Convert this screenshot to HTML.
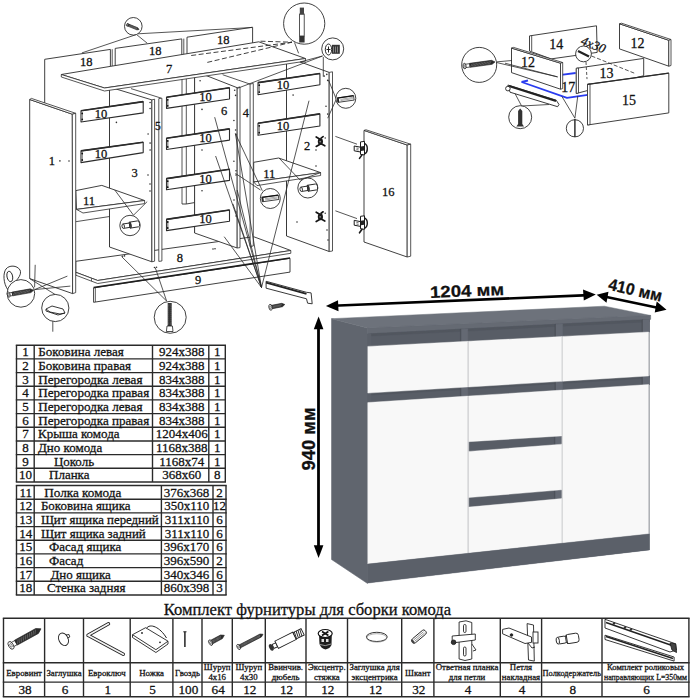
<!DOCTYPE html>
<html><head><meta charset="utf-8"><title>Комод</title>
<style>html,body{margin:0;padding:0;background:#fff;}body{width:694px;height:700px;overflow:hidden;font-family:"Liberation Serif",serif;}svg{display:block} text{fill:#111;stroke:#111;stroke-width:0.28px;}</style>
</head><body>
<svg width="694" height="700" viewBox="0 0 694 700">
<rect width="694" height="700" fill="#fff"/>
<polyline points="44.7,103.4 44.7,59.3 110.4,49.4 110.4,66.0" fill="none" stroke="#2b2b2b" stroke-width="0.9" stroke-linejoin="round"/>
<line x1="112.2" y1="49.2" x2="112.2" y2="66.0" stroke="#2b2b2b" stroke-width="0.8"/>
<polyline points="115.2,66.0 115.2,48.4 181.8,38.9 181.8,56.0" fill="none" stroke="#2b2b2b" stroke-width="0.9" stroke-linejoin="round"/>
<line x1="183.8" y1="38.6" x2="183.8" y2="56.0" stroke="#2b2b2b" stroke-width="0.8"/>
<polyline points="187.0,54.0 187.0,37.2 252.6,27.2 252.6,44.0" fill="none" stroke="#2b2b2b" stroke-width="0.9" stroke-linejoin="round"/>
<text x="86.2" y="65.6" font-family="Liberation Serif" font-size="12.5" text-anchor="middle" fill="#222">18</text>
<text x="155.3" y="55.1" font-family="Liberation Serif" font-size="12.5" text-anchor="middle" fill="#222">18</text>
<text x="223.3" y="43.6" font-family="Liberation Serif" font-size="12.5" text-anchor="middle" fill="#222">18</text>
<line x1="109.5" y1="86.0" x2="109.5" y2="247.0" stroke="#2b2b2b" stroke-width="0.8"/>
<line x1="182.0" y1="72.0" x2="182.0" y2="204.0" stroke="#2b2b2b" stroke-width="0.8"/>
<line x1="186.3" y1="72.0" x2="186.3" y2="204.0" stroke="#2b2b2b" stroke-width="0.8"/>
<polyline points="182.0,204.0 186.3,204.0 195.0,202.5" fill="none" stroke="#2b2b2b" stroke-width="0.9" stroke-linejoin="round"/>
<line x1="194.6" y1="70.0" x2="194.6" y2="233.0" stroke="#2b2b2b" stroke-width="0.8"/>
<line x1="286.5" y1="58.0" x2="286.5" y2="236.0" stroke="#2b2b2b" stroke-width="0.8"/>
<polygon points="75.8,261.3 253.6,236.7 290.8,250.5 97.7,280.5 75.8,272.3" fill="#fff" stroke="#2b2b2b" stroke-width="0.9" stroke-linejoin="round"/>
<polygon points="75.8,272.3 97.7,280.5 290.8,250.5 290.8,253.3 97.7,283.5 75.8,275.2" fill="#fff" stroke="#2b2b2b" stroke-width="0.8" stroke-linejoin="round"/>
<line x1="91.5" y1="278.3" x2="91.5" y2="281.2" stroke="#2b2b2b" stroke-width="0.7"/>
<text x="179.9" y="261.5" font-family="Liberation Serif" font-size="12.5" text-anchor="middle" fill="#222">8</text>
<polygon points="93.6,287.9 290.0,258.3 290.0,272.1 93.6,302.3" fill="#fff" stroke="#2b2b2b" stroke-width="0.9" stroke-linejoin="round"/>
<line x1="93.6" y1="287.6" x2="290.0" y2="258.0" stroke="#1e1e1e" stroke-width="1.5"/>
<line x1="95.4" y1="288.0" x2="95.4" y2="302.0" stroke="#2b2b2b" stroke-width="0.7"/>
<text x="198.2" y="283.7" font-family="Liberation Serif" font-size="12.5" text-anchor="middle" fill="#222">9</text>
<polygon points="109.5,87.0 151.9,99.9 151.9,261.8 109.5,247.0" fill="#fff" stroke="#2b2b2b" stroke-width="0.9" stroke-linejoin="round"/>
<polygon points="151.9,99.9 154.6,99.2 154.6,261.2 151.9,261.8" fill="#fff" stroke="#2b2b2b" stroke-width="0.8" stroke-linejoin="round"/>
<line x1="131.0" y1="88.6" x2="161.4" y2="98.2" stroke="#2b2b2b" stroke-width="0.8"/>
<polygon points="158.8,98.6 161.9,98.2 161.9,261.0 158.8,261.4" fill="#fff" stroke="#2b2b2b" stroke-width="0.8" stroke-linejoin="round"/>
<polygon points="194.6,71.0 237.2,87.7 237.2,248.0 194.6,233.0" fill="#fff" stroke="#2b2b2b" stroke-width="0.9" stroke-linejoin="round"/>
<polygon points="237.2,87.7 240.0,86.9 240.0,247.6 237.2,248.0" fill="#fff" stroke="#2b2b2b" stroke-width="0.8" stroke-linejoin="round"/>
<line x1="222.6" y1="74.7" x2="250.3" y2="84.2" stroke="#2b2b2b" stroke-width="0.8"/>
<polygon points="250.1,84.0 253.3,83.5 253.3,246.0 250.1,246.4" fill="#fff" stroke="#2b2b2b" stroke-width="0.8" stroke-linejoin="round"/>
<polygon points="286.5,57.0 329.2,72.4 329.2,251.5 286.5,236.0" fill="#fff" stroke="#2b2b2b" stroke-width="0.9" stroke-linejoin="round"/>
<polygon points="329.2,72.4 332.5,71.8 332.5,251.0 329.2,251.5" fill="#fff" stroke="#2b2b2b" stroke-width="0.8" stroke-linejoin="round"/>
<polygon points="75.8,190.6 101.8,185.4 144.6,200.5 76.5,209.4" fill="#fff" stroke="#2b2b2b" stroke-width="0.9" stroke-linejoin="round"/>
<polygon points="76.5,209.4 144.6,200.5 144.6,203.6 83.0,213.0" fill="#fff" stroke="#2b2b2b" stroke-width="0.8" stroke-linejoin="round"/>
<line x1="75.8" y1="221.7" x2="109.6" y2="216.5" stroke="#2b2b2b" stroke-width="0.8"/>
<text x="89.0" y="204.8" font-family="Liberation Serif" font-size="12.5" text-anchor="middle" fill="#222">11</text>
<polygon points="253.7,162.3 278.6,158.0 320.6,172.6 253.7,182.0" fill="#fff" stroke="#2b2b2b" stroke-width="0.9" stroke-linejoin="round"/>
<polygon points="253.7,182.0 320.6,172.6 320.6,175.5 257.0,185.6" fill="#fff" stroke="#2b2b2b" stroke-width="0.8" stroke-linejoin="round"/>
<text x="269.2" y="177.5" font-family="Liberation Serif" font-size="12.5" text-anchor="middle" fill="#222">11</text>
<polygon points="81.0,110.8 143.2,101.6 143.2,112.9 81.0,122.0" fill="#fff" stroke="#2b2b2b" stroke-width="1.1" stroke-linejoin="round"/>
<line x1="81.0" y1="110.8" x2="143.2" y2="101.6" stroke="#2b2b2b" stroke-width="1.6"/>
<rect x="81.4" y="112.3" width="1.6" height="8.2" fill="#999"/>
<circle cx="82.2" cy="113.4" r="0.9" fill="#111"/><circle cx="82.2" cy="119.4" r="0.9" fill="#111"/>
<text x="100.9" y="117.6" font-family="Liberation Serif" font-size="12.5" text-anchor="middle" fill="#222">10</text>
<polygon points="81.0,150.9 143.2,142.3 143.2,152.6 81.0,162.6" fill="#fff" stroke="#2b2b2b" stroke-width="1.1" stroke-linejoin="round"/>
<line x1="81.0" y1="150.9" x2="143.2" y2="142.3" stroke="#2b2b2b" stroke-width="1.6"/>
<rect x="81.4" y="152.4" width="1.6" height="8.7" fill="#999"/>
<circle cx="82.2" cy="153.5" r="0.9" fill="#111"/><circle cx="82.2" cy="160.0" r="0.9" fill="#111"/>
<text x="100.9" y="157.9" font-family="Liberation Serif" font-size="12.5" text-anchor="middle" fill="#222">10</text>
<polygon points="166.5,97.2 229.5,87.8 229.5,99.0 166.5,108.4" fill="#fff" stroke="#2b2b2b" stroke-width="1.1" stroke-linejoin="round"/>
<line x1="166.5" y1="97.2" x2="229.5" y2="87.8" stroke="#2b2b2b" stroke-width="1.6"/>
<rect x="166.9" y="98.7" width="1.6" height="8.2" fill="#999"/>
<circle cx="167.7" cy="99.8" r="0.9" fill="#111"/><circle cx="167.7" cy="105.8" r="0.9" fill="#111"/>
<text x="205.5" y="101.1" font-family="Liberation Serif" font-size="12.5" text-anchor="middle" fill="#222">10</text>
<polygon points="166.5,138.3 229.5,128.9 229.5,140.1 166.5,149.5" fill="#fff" stroke="#2b2b2b" stroke-width="1.1" stroke-linejoin="round"/>
<line x1="166.5" y1="138.3" x2="229.5" y2="128.9" stroke="#2b2b2b" stroke-width="1.6"/>
<rect x="166.9" y="139.8" width="1.6" height="8.2" fill="#999"/>
<circle cx="167.7" cy="140.9" r="0.9" fill="#111"/><circle cx="167.7" cy="146.9" r="0.9" fill="#111"/>
<text x="205.5" y="142.2" font-family="Liberation Serif" font-size="12.5" text-anchor="middle" fill="#222">10</text>
<polygon points="166.5,178.6 229.5,169.2 229.5,180.4 166.5,189.8" fill="#fff" stroke="#2b2b2b" stroke-width="1.1" stroke-linejoin="round"/>
<line x1="166.5" y1="178.6" x2="229.5" y2="169.2" stroke="#2b2b2b" stroke-width="1.6"/>
<rect x="166.9" y="180.1" width="1.6" height="8.2" fill="#999"/>
<circle cx="167.7" cy="181.2" r="0.9" fill="#111"/><circle cx="167.7" cy="187.2" r="0.9" fill="#111"/>
<text x="205.5" y="182.5" font-family="Liberation Serif" font-size="12.5" text-anchor="middle" fill="#222">10</text>
<polygon points="166.5,219.4 229.5,210.0 229.5,221.2 166.5,230.6" fill="#fff" stroke="#2b2b2b" stroke-width="1.1" stroke-linejoin="round"/>
<line x1="166.5" y1="219.4" x2="229.5" y2="210.0" stroke="#2b2b2b" stroke-width="1.6"/>
<rect x="166.9" y="220.9" width="1.6" height="8.2" fill="#999"/>
<circle cx="167.7" cy="222.0" r="0.9" fill="#111"/><circle cx="167.7" cy="228.0" r="0.9" fill="#111"/>
<text x="205.5" y="223.3" font-family="Liberation Serif" font-size="12.5" text-anchor="middle" fill="#222">10</text>
<polygon points="258.0,82.6 319.9,73.5 319.9,84.7 258.0,94.7" fill="#fff" stroke="#2b2b2b" stroke-width="1.1" stroke-linejoin="round"/>
<line x1="258.0" y1="82.6" x2="319.9" y2="73.5" stroke="#2b2b2b" stroke-width="1.6"/>
<rect x="258.4" y="84.1" width="1.6" height="9.1" fill="#999"/>
<circle cx="259.2" cy="85.2" r="0.9" fill="#111"/><circle cx="259.2" cy="92.1" r="0.9" fill="#111"/>
<text x="283.0" y="88.9" font-family="Liberation Serif" font-size="12.5" text-anchor="middle" fill="#222">10</text>
<polygon points="258.0,123.2 319.9,113.9 319.9,126.0 258.0,135.3" fill="#fff" stroke="#2b2b2b" stroke-width="1.1" stroke-linejoin="round"/>
<line x1="258.0" y1="123.2" x2="319.9" y2="113.9" stroke="#2b2b2b" stroke-width="1.6"/>
<rect x="258.4" y="124.7" width="1.6" height="9.1" fill="#999"/>
<circle cx="259.2" cy="125.8" r="0.9" fill="#111"/><circle cx="259.2" cy="132.7" r="0.9" fill="#111"/>
<text x="283.0" y="129.6" font-family="Liberation Serif" font-size="12.5" text-anchor="middle" fill="#222">10</text>
<text x="134.6" y="176.6" font-family="Liberation Serif" font-size="12.5" text-anchor="middle" fill="#222">3</text>
<text x="157.9" y="129.6" font-family="Liberation Serif" font-size="11.5" text-anchor="middle" fill="#222">5</text>
<text x="224.2" y="114.9" font-family="Liberation Serif" font-size="12.5" text-anchor="middle" fill="#222">6</text>
<text x="245.8" y="117.0" font-family="Liberation Serif" font-size="12.5" text-anchor="middle" fill="#222">4</text>
<text x="307.2" y="149.8" font-family="Liberation Serif" font-size="12.5" text-anchor="middle" fill="#222">2</text>
<polygon points="61.3,74.5 258.8,41.8 305.5,58.5 104.5,88.0" fill="#fff" stroke="#2b2b2b" stroke-width="0.9" stroke-linejoin="round"/>
<polygon points="61.3,74.5 104.5,88.0 305.5,58.5 305.5,61.2 104.5,91.0 61.3,77.0" fill="#fff" stroke="#2b2b2b" stroke-width="0.8" stroke-linejoin="round"/>
<text x="169.0" y="72.7" font-family="Liberation Serif" font-size="12.5" text-anchor="middle" fill="#222">7</text>
<polyline points="191.2,55.5 292.0,42.2" fill="none" stroke="#2b2b2b" stroke-width="0.9" stroke-linejoin="round" stroke-dasharray="5,2.5"/>
<polyline points="207.3,62.4 292.0,42.2" fill="none" stroke="#2b2b2b" stroke-width="0.9" stroke-linejoin="round" stroke-dasharray="5,2.5"/>
<polyline points="260.5,41.2 292.0,42.2" fill="none" stroke="#2b2b2b" stroke-width="0.9" stroke-linejoin="round" stroke-dasharray="5,2.5"/>
<line x1="294.5" y1="42.5" x2="298.6" y2="53.3" stroke="#2b2b2b" stroke-width="0.8"/>
<polygon points="29.7,99.5 72.3,114.2 72.6,293.6 29.7,278.6" fill="#fff" stroke="#2b2b2b" stroke-width="0.9" stroke-linejoin="round"/>
<polygon points="29.7,99.5 31.4,98.4 75.7,113.3 72.3,114.2" fill="#fff" stroke="#2b2b2b" stroke-width="0.8" stroke-linejoin="round"/>
<polygon points="72.3,114.2 75.7,113.3 75.7,292.6 72.6,293.6" fill="#fff" stroke="#2b2b2b" stroke-width="0.8" stroke-linejoin="round"/>
<text x="51.9" y="165.0" font-family="Liberation Serif" font-size="12.5" text-anchor="middle" fill="#222">1</text>
<polygon points="364.0,130.4 407.2,145.0 407.2,257.0 364.0,242.0" fill="#fff" stroke="#2b2b2b" stroke-width="0.9" stroke-linejoin="round"/>
<polygon points="364.0,130.4 366.0,129.8 410.7,144.2 407.2,145.0" fill="#fff" stroke="#2b2b2b" stroke-width="0.8" stroke-linejoin="round"/>
<polygon points="407.2,145.0 410.7,144.2 410.7,256.2 407.2,257.0" fill="#fff" stroke="#2b2b2b" stroke-width="0.8" stroke-linejoin="round"/>
<text x="388.2" y="196.4" font-family="Liberation Serif" font-size="12.5" text-anchor="middle" fill="#222">16</text>
<line x1="136.5" y1="34.5" x2="81.9" y2="52.9" stroke="#2b2b2b" stroke-width="0.8"/>
<line x1="136.5" y1="34.5" x2="147.2" y2="43.2" stroke="#2b2b2b" stroke-width="0.8"/>
<line x1="138.0" y1="33.8" x2="252.0" y2="27.5" stroke="#2b2b2b" stroke-width="0.8"/>
<line x1="322.5" y1="56.0" x2="237.3" y2="88.4" stroke="#2b2b2b" stroke-width="0.8"/>
<line x1="322.5" y1="56.0" x2="300.0" y2="62.0" stroke="#2b2b2b" stroke-width="0.8"/>
<line x1="323.3" y1="57.0" x2="323.3" y2="76.7" stroke="#2b2b2b" stroke-width="0.8"/>
<line x1="336.3" y1="99.2" x2="328.5" y2="80.1" stroke="#2b2b2b" stroke-width="0.8"/>
<line x1="336.3" y1="99.2" x2="327.7" y2="118.2" stroke="#2b2b2b" stroke-width="0.8"/>
<line x1="335.4" y1="136.4" x2="357.0" y2="144.2" stroke="#2b2b2b" stroke-width="0.8"/>
<line x1="335.4" y1="210.8" x2="357.0" y2="218.6" stroke="#2b2b2b" stroke-width="0.8"/>
<line x1="300.0" y1="180.0" x2="320.6" y2="172.6" stroke="#2b2b2b" stroke-width="0.8"/>
<line x1="300.0" y1="180.0" x2="279.0" y2="158.0" stroke="#2b2b2b" stroke-width="0.8"/>
<line x1="133.5" y1="215.2" x2="114.7" y2="189.9" stroke="#2b2b2b" stroke-width="0.8"/>
<line x1="133.5" y1="215.2" x2="147.2" y2="201.6" stroke="#2b2b2b" stroke-width="0.8"/>
<line x1="262.3" y1="190.7" x2="235.4" y2="133.6" stroke="#2b2b2b" stroke-width="0.8"/>
<line x1="260.5" y1="190.0" x2="235.4" y2="173.4" stroke="#2b2b2b" stroke-width="0.8"/>
<line x1="34.6" y1="289.6" x2="67.4" y2="276.1" stroke="#2b2b2b" stroke-width="0.8"/>
<line x1="34.6" y1="289.6" x2="70.3" y2="286.1" stroke="#2b2b2b" stroke-width="0.8"/>
<line x1="35.2" y1="264.8" x2="34.6" y2="287.3" stroke="#2b2b2b" stroke-width="0.8"/>
<line x1="29.7" y1="278.6" x2="57.6" y2="296.0" stroke="#2b2b2b" stroke-width="0.8"/>
<line x1="166.6" y1="301.0" x2="121.6" y2="256.6" stroke="#2b2b2b" stroke-width="0.8"/>
<line x1="166.6" y1="301.0" x2="155.3" y2="267.8" stroke="#2b2b2b" stroke-width="0.8"/>
<line x1="52.8" y1="316.1" x2="52.8" y2="331.7" stroke="#2b2b2b" stroke-width="0.8"/>
<line x1="214.7" y1="117.2" x2="261.5" y2="287.5" stroke="#2b2b2b" stroke-width="0.8"/>
<line x1="215.6" y1="156.0" x2="261.5" y2="287.5" stroke="#2b2b2b" stroke-width="0.8"/>
<line x1="309.0" y1="100.7" x2="261.5" y2="287.5" stroke="#2b2b2b" stroke-width="0.8"/>
<line x1="235.4" y1="133.6" x2="261.5" y2="287.5" stroke="#2b2b2b" stroke-width="0.8"/>
<line x1="232.9" y1="203.8" x2="261.5" y2="287.5" stroke="#2b2b2b" stroke-width="0.8"/>
<line x1="224.2" y1="236.7" x2="261.5" y2="287.5" stroke="#2b2b2b" stroke-width="0.8"/>
<line x1="237.2" y1="190.0" x2="261.5" y2="287.5" stroke="#2b2b2b" stroke-width="0.8"/>
<circle cx="133.3" cy="26.3" r="8.8" fill="#fff" stroke="#2b2b2b" stroke-width="0.9"/>
<g transform="translate(127.00 24.60) rotate(22.21)"><rect x="0.52" y="-0.94" width="1.42" height="1.87" fill="#fff" stroke="#222" stroke-width="0.7"/><path d="M1.94 -1.10 L11.20 -1.10 L12.96 0 L11.20 1.10 L1.94 1.10 Z" fill="#2a2a2a" stroke="#222" stroke-width="0.6"/><path d="M2.24 0.77 L3.34 -0.77 M3.08 0.77 L4.18 -0.77 M3.92 0.77 L5.02 -0.77 M4.76 0.77 L5.86 -0.77 M5.60 0.77 L6.70 -0.77 M6.44 0.77 L7.54 -0.77 M7.29 0.77 L8.39 -0.77 M8.13 0.77 L9.23 -0.77 M8.97 0.77 L10.07 -0.77 M9.81 0.77 L10.91 -0.77" stroke="#8a8a8a" stroke-width="0.5"/><ellipse cx="0.52" cy="0" rx="0.83" ry="1.50" fill="#fff" stroke="#222" stroke-width="0.8"/><ellipse cx="0.52" cy="0" rx="0.38" ry="0.68" fill="none" stroke="#444" stroke-width="0.6"/></g>
<circle cx="304.2" cy="23.6" r="20.6" fill="#fff" stroke="#2b2b2b" stroke-width="0.9"/>
<rect x="299.6" y="14" width="4.6" height="22" fill="#fff" stroke="#2b2b2b" stroke-width="0.8"/>
<rect x="299.8" y="7.6" width="4.2" height="7" fill="#444"/>
<rect x="299.2" y="36" width="5.4" height="6.5" fill="#333"/>
<circle cx="332.7" cy="48.9" r="11.0" fill="#fff" stroke="#2b2b2b" stroke-width="0.9"/>
<ellipse cx="328.5" cy="49.5" rx="3.2" ry="5.5" fill="#fff" stroke="#222" stroke-width="1"/>
<path d="M326.5 49.5h4M328.5 46.5v6" stroke="#222" stroke-width="1"/>
<rect x="332" y="44.8" width="7.8" height="9" fill="#333"/>
<path d="M333.5 46.5v6M335.5 46.5v6M337.5 46.5v6" stroke="#bbb" stroke-width="0.6"/>
<circle cx="345.8" cy="98.3" r="10.0" fill="#fff" stroke="#2b2b2b" stroke-width="0.9"/>
<g transform="translate(337.50 100.20) rotate(-8.0)"><rect x="0" y="-2.20" width="16.50" height="4.40" fill="#fff" stroke="#222" stroke-width="0.8"/><line x1="0" y1="-2.20" x2="16.50" y2="-2.20" stroke="#111" stroke-width="1.3"/><rect x="0" y="-2.20" width="1.5" height="4.40" fill="#222"/><path d="M3 -0.4 L15.50 -0.6 M3 0.8 L15.50 0.6" stroke="#777" stroke-width="0.6"/></g>
<circle cx="307.8" cy="188.0" r="10.0" fill="#fff" stroke="#2b2b2b" stroke-width="0.9"/>
<g transform="translate(301.2 189.3) rotate(-9.0) scale(1.00)"><path d="M0 -2.2 L6.5 -2.2 L6.5 2.2 L0 2.2" fill="#fff" stroke="#222" stroke-width="0.9"/><ellipse cx="0" cy="0" rx="1.2" ry="2.2" fill="#fff" stroke="#222" stroke-width="0.9"/><path d="M6.5 -3 L15 -3 A1.6 3 0 0 1 15 3 L6.5 3 Z" fill="#fff" stroke="#222" stroke-width="0.9"/><path d="M6.5 -3 A1.6 3 0 0 1 6.5 3" fill="none" stroke="#222" stroke-width="0.9"/><rect x="6.8" y="-3" width="1.3" height="6" fill="#333"/></g>
<circle cx="270.3" cy="198.5" r="10.0" fill="#fff" stroke="#2b2b2b" stroke-width="0.9"/>
<g transform="translate(262.10 199.60) rotate(-8.0)"><rect x="0" y="-2.20" width="16.60" height="4.40" fill="#fff" stroke="#222" stroke-width="0.8"/><line x1="0" y1="-2.20" x2="16.60" y2="-2.20" stroke="#111" stroke-width="1.3"/><rect x="0" y="-2.20" width="1.5" height="4.40" fill="#222"/><path d="M3 -0.4 L15.60 -0.6 M3 0.8 L15.60 0.6" stroke="#777" stroke-width="0.6"/></g>
<circle cx="130.0" cy="225.5" r="10.2" fill="#fff" stroke="#2b2b2b" stroke-width="0.9"/>
<g transform="translate(123.2 226.2) rotate(-9.0) scale(1.00)"><path d="M0 -2.2 L6.5 -2.2 L6.5 2.2 L0 2.2" fill="#fff" stroke="#222" stroke-width="0.9"/><ellipse cx="0" cy="0" rx="1.2" ry="2.2" fill="#fff" stroke="#222" stroke-width="0.9"/><path d="M6.5 -3 L15 -3 A1.6 3 0 0 1 15 3 L6.5 3 Z" fill="#fff" stroke="#222" stroke-width="0.9"/><path d="M6.5 -3 A1.6 3 0 0 1 6.5 3" fill="none" stroke="#222" stroke-width="0.9"/><rect x="6.8" y="-3" width="1.3" height="6" fill="#333"/></g>
<path d="M8 290 C3 283 3 273 6 269 C9 265 17 265 20 270 C22 274 18 279 14 283 C11 287 9 289 8 290 Z" fill="none" stroke="#222" stroke-width="0.9"/>
<ellipse cx="9.8" cy="276.5" rx="2.8" ry="5.3" fill="none" stroke="#222" stroke-width="0.9" transform="rotate(-12 9.8 276.5)"/>
<circle cx="20.9" cy="293.4" r="13.8" fill="#fff" stroke="#2b2b2b" stroke-width="0.9"/>
<g transform="translate(7.80 294.80) rotate(-10.11)"><rect x="0.91" y="-1.61" width="3.81" height="3.23" fill="#fff" stroke="#222" stroke-width="0.7"/><path d="M4.72 -1.90 L23.17 -1.90 L26.21 0 L23.17 1.90 L4.72 1.90 Z" fill="#2a2a2a" stroke="#222" stroke-width="0.6"/><path d="M5.30 1.33 L7.20 -1.33 M6.84 1.33 L8.74 -1.33 M8.38 1.33 L10.28 -1.33 M9.92 1.33 L11.82 -1.33 M11.45 1.33 L13.35 -1.33 M12.99 1.33 L14.89 -1.33 M14.53 1.33 L16.43 -1.33 M16.07 1.33 L17.97 -1.33 M17.60 1.33 L19.50 -1.33 M19.14 1.33 L21.04 -1.33 M20.68 1.33 L22.58 -1.33" stroke="#8a8a8a" stroke-width="0.5"/><ellipse cx="0.91" cy="0" rx="1.43" ry="2.60" fill="#fff" stroke="#222" stroke-width="0.8"/><ellipse cx="0.91" cy="0" rx="0.65" ry="1.17" fill="none" stroke="#444" stroke-width="0.6"/></g>
<circle cx="55.3" cy="308.0" r="13.6" fill="#fff" stroke="#2b2b2b" stroke-width="0.9"/>
<path d="M46 309 L52 306 L63 309 L65 313 L60 314 L50 312 Z" fill="#fff" stroke="#222" stroke-width="0.9"/><path d="M46 309 L46 311 L58 315 L65 313" fill="none" stroke="#222" stroke-width="0.9"/>
<circle cx="170.2" cy="317.3" r="16.0" fill="#fff" stroke="#2b2b2b" stroke-width="0.9"/>
<rect x="167.7" y="303" width="4" height="23" fill="#333"/><rect x="168.3" y="305" width="2.8" height="19" fill="none" stroke="#aaa" stroke-width="0.4" stroke-dasharray="1,1"/><path d="M167 326 L172.4 326 L173 331.5 L166.4 331.5 Z" fill="#fff" stroke="#222" stroke-width="0.8"/>
<g transform="translate(320.6 141.6)"><path d="M-4.4 -4.6 L-1 -2.6 M-4.4 4.8 L-1 2.8 M1 2.5 L4.2 4.2 M0.5 -3.5 L2.5 -5" stroke="#151515" stroke-width="1.7" stroke-linecap="round" fill="none"/><ellipse cx="-0.2" cy="0" rx="2.6" ry="3.4" fill="#1a1a1a"/><circle cx="4.6" cy="-3.6" r="0.7" fill="#222"/><circle cx="-0.4" cy="0" r="0.9" fill="#888"/></g>
<g transform="translate(320.6 216.8)"><path d="M-4.4 -4.6 L-1 -2.6 M-4.4 4.8 L-1 2.8 M1 2.5 L4.2 4.2 M0.5 -3.5 L2.5 -5" stroke="#151515" stroke-width="1.7" stroke-linecap="round" fill="none"/><ellipse cx="-0.2" cy="0" rx="2.6" ry="3.4" fill="#1a1a1a"/><circle cx="4.6" cy="-3.6" r="0.7" fill="#222"/><circle cx="-0.4" cy="0" r="0.9" fill="#888"/></g>
<g transform="translate(362 147.4)"><path d="M-7.8 -1.4 L-1.5 -0.2 L-1.5 4.6 L-7.8 3.4 Z" fill="#fff" stroke="#1a1a1a" stroke-width="1"/><path d="M-5.6 0.6 L-3.4 1 M-5.6 2.2 L-3.4 2.6" stroke="#333" stroke-width="0.7"/><path d="M-1.5 -5.5 L2.5 -6 L2.5 7.5 L-1.5 7 Z" fill="#fff" stroke="#1a1a1a" stroke-width="1"/><path d="M2.5 -4 A4 5.5 0 0 1 2.5 6.5" fill="none" stroke="#1a1a1a" stroke-width="1.4"/><path d="M-1 -1 L2 -1.5 L2 3 L-1 3.5 Z" fill="#222"/><path d="M0 7.5 L-2.5 11" stroke="#1a1a1a" stroke-width="1.6" stroke-linecap="round"/></g>
<g transform="translate(362 221.8)"><path d="M-7.8 -1.4 L-1.5 -0.2 L-1.5 4.6 L-7.8 3.4 Z" fill="#fff" stroke="#1a1a1a" stroke-width="1"/><path d="M-5.6 0.6 L-3.4 1 M-5.6 2.2 L-3.4 2.6" stroke="#333" stroke-width="0.7"/><path d="M-1.5 -5.5 L2.5 -6 L2.5 7.5 L-1.5 7 Z" fill="#fff" stroke="#1a1a1a" stroke-width="1"/><path d="M2.5 -4 A4 5.5 0 0 1 2.5 6.5" fill="none" stroke="#1a1a1a" stroke-width="1.4"/><path d="M-1 -1 L2 -1.5 L2 3 L-1 3.5 Z" fill="#222"/><path d="M0 7.5 L-2.5 11" stroke="#1a1a1a" stroke-width="1.6" stroke-linecap="round"/></g>
<path d="M266.1 281.3 L306.5 292.3 L311.1 292.9 L312.2 303.8 L307.6 303.2 L306.5 298.8 L266.1 288.2 Z" fill="#fff" stroke="#222" stroke-width="0.9"/>
<line x1="266.1" y1="282.6" x2="306.5" y2="293.8" stroke="#222" stroke-width="1.8"/>
<g transform="translate(269.50 307.50) rotate(-11.09)"><rect x="1.05" y="-1.44" width="0.20" height="2.89" fill="#fff" stroke="#222" stroke-width="0.7"/><path d="M1.25 -1.70 L12.87 -1.70 L15.59 0 L12.87 1.70 L1.25 1.70 Z" fill="#2a2a2a" stroke="#222" stroke-width="0.6"/><path d="M1.69 1.19 L3.39 -1.19 M2.98 1.19 L4.68 -1.19 M4.27 1.19 L5.97 -1.19 M5.56 1.19 L7.26 -1.19 M6.86 1.19 L8.56 -1.19 M8.15 1.19 L9.85 -1.19 M9.44 1.19 L11.14 -1.19 M10.73 1.19 L12.43 -1.19" stroke="#8a8a8a" stroke-width="0.5"/><ellipse cx="1.05" cy="0" rx="1.65" ry="3.00" fill="#fff" stroke="#222" stroke-width="0.8"/><ellipse cx="1.05" cy="0" rx="0.75" ry="1.35" fill="none" stroke="#444" stroke-width="0.6"/></g>
<circle cx="69.0" cy="161.0" r="0.8" fill="#333"/>
<circle cx="116.4" cy="122.4" r="0.8" fill="#333"/>
<circle cx="150.1" cy="102.5" r="0.8" fill="#333"/>
<circle cx="150.1" cy="108.5" r="0.8" fill="#333"/>
<circle cx="148.1" cy="134.0" r="0.8" fill="#333"/>
<circle cx="150.1" cy="143.1" r="0.8" fill="#333"/>
<circle cx="150.1" cy="150.0" r="0.8" fill="#333"/>
<circle cx="148.0" cy="175.0" r="0.8" fill="#333"/>
<circle cx="150.0" cy="184.0" r="0.8" fill="#333"/>
<circle cx="150.0" cy="191.0" r="0.8" fill="#333"/>
<circle cx="202.0" cy="109.4" r="0.8" fill="#333"/>
<circle cx="202.0" cy="150.0" r="0.8" fill="#333"/>
<circle cx="202.0" cy="190.7" r="0.8" fill="#333"/>
<circle cx="200.1" cy="80.8" r="0.8" fill="#333"/>
<circle cx="234.7" cy="90.3" r="0.8" fill="#333"/>
<circle cx="235.6" cy="95.4" r="0.8" fill="#333"/>
<circle cx="233.9" cy="120.5" r="0.8" fill="#333"/>
<circle cx="235.6" cy="130.0" r="0.8" fill="#333"/>
<circle cx="236.0" cy="134.4" r="0.8" fill="#333"/>
<circle cx="233.9" cy="161.2" r="0.8" fill="#333"/>
<circle cx="236.0" cy="170.7" r="0.8" fill="#333"/>
<circle cx="236.0" cy="175.0" r="0.8" fill="#333"/>
<circle cx="234.0" cy="200.0" r="0.8" fill="#333"/>
<circle cx="236.0" cy="212.0" r="0.8" fill="#333"/>
<circle cx="236.0" cy="216.0" r="0.8" fill="#333"/>
<circle cx="324.2" cy="76.1" r="0.8" fill="#333"/>
<circle cx="326.8" cy="74.4" r="0.8" fill="#333"/>
<circle cx="327.7" cy="80.4" r="0.8" fill="#333"/>
<circle cx="293.1" cy="95.1" r="0.8" fill="#333"/>
<circle cx="326.0" cy="106.3" r="0.8" fill="#333"/>
<circle cx="327.7" cy="114.1" r="0.8" fill="#333"/>
<circle cx="297.0" cy="222.0" r="0.8" fill="#333"/>
<circle cx="327.0" cy="230.0" r="0.8" fill="#333"/>
<circle cx="328.0" cy="240.0" r="0.8" fill="#333"/>
<circle cx="316.0" cy="150.0" r="0.8" fill="#333"/>
<circle cx="316.0" cy="166.0" r="0.8" fill="#333"/>
<circle cx="122.5" cy="256.2" r="0.8" fill="#333"/>
<circle cx="124.5" cy="255.9" r="0.8" fill="#333"/>
<circle cx="154.5" cy="267.5" r="0.8" fill="#333"/>
<circle cx="156.5" cy="267.2" r="0.8" fill="#333"/>
<circle cx="213.0" cy="249.0" r="0.8" fill="#333"/>
<circle cx="215.0" cy="248.7" r="0.8" fill="#333"/>
<circle cx="59.9" cy="160.9" r="0.8" fill="#333"/>
<polygon points="529.5,35.9 596.5,25.8 597.2,52.4 551.1,58.9 529.5,51.0" fill="#fff" stroke="#2b2b2b" stroke-width="0.9" stroke-linejoin="round"/>
<line x1="531.7" y1="35.7" x2="531.7" y2="51.0" stroke="#2b2b2b" stroke-width="0.8"/>
<text x="556.2" y="49.1" font-family="Liberation Serif" font-size="14" text-anchor="middle" fill="#222">14</text>
<polygon points="619.5,23.8 668.8,40.3 668.8,66.2 619.5,48.9" fill="#fff" stroke="#2b2b2b" stroke-width="0.9" stroke-linejoin="round"/>
<polygon points="619.5,23.8 621.5,23.2 671.0,39.5 668.8,40.3" fill="#fff" stroke="#2b2b2b" stroke-width="0.8" stroke-linejoin="round"/>
<polygon points="668.8,40.3 671.0,39.5 671.0,65.5 668.8,66.2" fill="#fff" stroke="#2b2b2b" stroke-width="0.8" stroke-linejoin="round"/>
<text x="637.6" y="48.3" font-family="Liberation Serif" font-size="14" text-anchor="middle" fill="#222">12</text>
<polyline points="521.6,82.0 567.0,97.8 587.9,94.9" fill="none" stroke="#2a3cf0" stroke-width="1.8" stroke-linejoin="round"/>
<line x1="561.2" y1="74.8" x2="575.6" y2="73.0" stroke="#2a3cf0" stroke-width="1.8"/>
<line x1="521.6" y1="82.0" x2="528.0" y2="80.5" stroke="#2a3cf0" stroke-width="1.8"/>
<polygon points="576.3,68.3 643.7,58.4 643.7,75.7 576.3,93.5" fill="#fff" stroke="#2b2b2b" stroke-width="0.9" stroke-linejoin="round"/>
<polygon points="576.3,68.3 578.5,68.0 578.5,93.0 576.3,93.5" fill="#fff" stroke="#2b2b2b" stroke-width="0.8" stroke-linejoin="round"/>
<text x="606.5" y="77.7" font-family="Liberation Serif" font-size="14" text-anchor="middle" fill="#222">13</text>
<text x="568.3" y="92.4" font-family="Liberation Serif" font-size="14" text-anchor="middle" fill="#222">17</text>
<polygon points="511.5,48.1 560.5,63.2 560.5,89.2 511.5,72.6" fill="#fff" stroke="#2b2b2b" stroke-width="0.9" stroke-linejoin="round"/>
<polygon points="511.5,48.1 513.5,47.4 562.7,62.5 560.5,63.2" fill="#fff" stroke="#2b2b2b" stroke-width="0.8" stroke-linejoin="round"/>
<polygon points="560.5,63.2 562.7,62.5 562.7,88.6 560.5,89.2" fill="#fff" stroke="#2b2b2b" stroke-width="0.8" stroke-linejoin="round"/>
<line x1="505.0" y1="63.2" x2="557.6" y2="76.9" stroke="#2b2b2b" stroke-width="0.8"/>
<text x="528.0" y="67.1" font-family="Liberation Serif" font-size="14" text-anchor="middle" fill="#222">12</text>
<polygon points="587.5,84.4 668.8,73.1 668.8,112.9 587.5,125.0" fill="#fff" stroke="#2b2b2b" stroke-width="0.9" stroke-linejoin="round"/>
<polygon points="587.5,84.4 590.0,84.0 590.0,124.6 587.5,125.0" fill="#fff" stroke="#2b2b2b" stroke-width="0.8" stroke-linejoin="round"/>
<line x1="587.5" y1="84.4" x2="668.8" y2="73.1" stroke="#2b2b2b" stroke-width="1.4"/>
<text x="629.0" y="105.4" font-family="Liberation Serif" font-size="14" text-anchor="middle" fill="#222">15</text>
<path d="M507.9 85 L556.2 100.2 L559 104.5 L557.6 106.7 L510 92.2 Z" fill="#fff" stroke="#222" stroke-width="0.9"/>
<line x1="509.0" y1="86.0" x2="556.0" y2="101.0" stroke="#222" stroke-width="2"/>
<circle cx="507.9" cy="88.6" r="2.3" fill="#fff" stroke="#222" stroke-width="0.9"/>
<line x1="496.5" y1="61.9" x2="512.0" y2="60.5" stroke="#2b2b2b" stroke-width="0.8"/>
<line x1="496.5" y1="62.5" x2="557.6" y2="76.9" stroke="#2b2b2b" stroke-width="0.8"/>
<line x1="515.1" y1="93.7" x2="521.6" y2="106.0" stroke="#2b2b2b" stroke-width="0.8"/>
<line x1="549.0" y1="104.5" x2="521.6" y2="106.0" stroke="#2b2b2b" stroke-width="0.8"/>
<line x1="562.0" y1="96.6" x2="574.9" y2="118.2" stroke="#2b2b2b" stroke-width="0.8"/>
<line x1="577.8" y1="95.9" x2="574.9" y2="118.2" stroke="#2b2b2b" stroke-width="0.8"/>
<polyline points="591.5,56.0 634.2,73.1" fill="none" stroke="#2b2b2b" stroke-width="0.8" stroke-linejoin="round" stroke-dasharray="4,2"/>
<polyline points="586.0,62.0 587.0,79.1" fill="none" stroke="#2b2b2b" stroke-width="0.8" stroke-linejoin="round" stroke-dasharray="3,2"/>
<circle cx="479.2" cy="64.9" r="17.5" fill="#fff" stroke="#2b2b2b" stroke-width="0.9"/>
<g transform="translate(463.60 66.20) rotate(-7.80)"><rect x="0.98" y="-1.70" width="5.36" height="3.40" fill="#fff" stroke="#222" stroke-width="0.7"/><path d="M6.34 -2.00 L28.49 -2.00 L31.69 0 L28.49 2.00 L6.34 2.00 Z" fill="#2a2a2a" stroke="#222" stroke-width="0.6"/><path d="M6.92 1.40 L8.92 -1.40 M8.50 1.40 L10.50 -1.40 M10.09 1.40 L12.09 -1.40 M11.67 1.40 L13.67 -1.40 M13.25 1.40 L15.25 -1.40 M14.83 1.40 L16.83 -1.40 M16.42 1.40 L18.42 -1.40 M18.00 1.40 L20.00 -1.40 M19.58 1.40 L21.58 -1.40 M21.16 1.40 L23.16 -1.40 M22.75 1.40 L24.75 -1.40 M24.33 1.40 L26.33 -1.40 M25.91 1.40 L27.91 -1.40" stroke="#8a8a8a" stroke-width="0.5"/><ellipse cx="0.98" cy="0" rx="1.54" ry="2.80" fill="#fff" stroke="#222" stroke-width="0.8"/><ellipse cx="0.98" cy="0" rx="0.70" ry="1.26" fill="none" stroke="#444" stroke-width="0.6"/></g>
<circle cx="520.2" cy="117.2" r="11.5" fill="#fff" stroke="#2b2b2b" stroke-width="0.9"/>
<path d="M520.2 108.5 L522.3 111 L522.3 124 L524 126.5 L516.4 126.5 L518.1 124 L518.1 111 Z" fill="#333"/>
<circle cx="574.9" cy="128.3" r="8.6" fill="#fff" stroke="#2b2b2b" stroke-width="0.9"/>
<line x1="574.9" y1="119.0" x2="574.9" y2="137.0" stroke="#222" stroke-width="1.4"/>
<circle cx="583.5" cy="53.9" r="7.9" fill="#fff" stroke="#2b2b2b" stroke-width="0.9"/>
<line x1="578" y1="51" x2="589" y2="56.5" stroke="#222" stroke-width="2.2"/>
<text x="0" y="0" font-family="Liberation Serif" font-style="italic" font-size="13" transform="translate(580 44) rotate(22)" fill="#222">4x30</text>
<polygon points="331.5,318.7 367.5,328 367.5,583.5 331.5,559.5" fill="#60656e" stroke="#60656e" stroke-width="0.5"/>
<polygon points="331.5,318.7 604.4,306.2 650.7,315.5 367.5,328" fill="#6d727b" stroke="#6d727b" stroke-width="0.5"/>
<polygon points="367.5,328.0 649.5,315.5 649.5,550.0 367.5,583.0" fill="#5d626b"/>
<polygon points="367.5,328.0 650.7,315.4 650.7,319.4 367.5,334.0" fill="#656a73" stroke="#656a73" stroke-width="0.4"/>
<polygon points="367.5,334.0 649.5,319.5 649.5,332.0 367.5,346.4" fill="#585d66" stroke="#585d66" stroke-width="0.4"/>
<polygon points="367.5,393.1 649.5,376.0 649.5,384.5 367.5,402.5" fill="#585d66" stroke="#585d66" stroke-width="0.4"/>
<polygon points="468.0,441.7 561.5,435.9 561.5,444.2 468.0,451.5" fill="#585d66" stroke="#585d66" stroke-width="0.4"/>
<polygon points="468.0,497.7 561.5,489.9 561.5,498.7 468.0,507.2" fill="#585d66" stroke="#585d66" stroke-width="0.4"/>
<polygon points="371.0,333.8 649.5,319.5 649.5,321.7 371.0,336.0" fill="#52575f" stroke="#52575f" stroke-width="0.4"/>
<polygon points="371.0,392.9 649.5,376.0 649.5,378.0 371.0,395.0" fill="#52575f" stroke="#52575f" stroke-width="0.4"/>
<polygon points="460.3,329.2 461.5,329.2 461.5,341.6 460.3,341.7" fill="#4b5058" stroke="#4b5058" stroke-width="0.4"/>
<polygon points="461.5,329.2 467.8,328.9 467.8,341.3 461.5,341.6" fill="#646973" stroke="#646973" stroke-width="0.4"/>
<polygon points="460.3,387.5 461.5,387.4 461.5,396.5 460.3,396.6" fill="#4b5058" stroke="#4b5058" stroke-width="0.4"/>
<polygon points="461.5,387.4 467.8,387.0 467.8,396.1 461.5,396.5" fill="#646973" stroke="#646973" stroke-width="0.4"/>
<polygon points="554.8,324.4 556.0,324.3 556.0,336.8 554.8,336.8" fill="#4b5058" stroke="#4b5058" stroke-width="0.4"/>
<polygon points="556.0,324.3 562.6,324.0 562.6,336.4 556.0,336.8" fill="#646973" stroke="#646973" stroke-width="0.4"/>
<polygon points="554.8,381.7 556.0,381.7 556.0,390.5 554.8,390.5" fill="#4b5058" stroke="#4b5058" stroke-width="0.4"/>
<polygon points="556.0,381.7 562.6,381.3 562.6,390.0 556.0,390.5" fill="#646973" stroke="#646973" stroke-width="0.4"/>
<polygon points="554.3,436.4 555.5,436.3 555.5,444.7 554.3,444.7" fill="#4b5058" stroke="#4b5058" stroke-width="0.4"/>
<polygon points="555.5,436.3 561.5,435.9 561.5,444.2 555.5,444.7" fill="#646973" stroke="#646973" stroke-width="0.4"/>
<polygon points="554.3,490.5 555.5,490.4 555.5,499.2 554.3,499.3" fill="#4b5058" stroke="#4b5058" stroke-width="0.4"/>
<polygon points="555.5,490.4 561.5,489.9 561.5,498.7 555.5,499.2" fill="#646973" stroke="#646973" stroke-width="0.4"/>
<polygon points="641.8,319.9 643.0,319.8 643.0,332.3 641.8,332.4" fill="#4b5058" stroke="#4b5058" stroke-width="0.4"/>
<polygon points="643.0,319.8 649.5,319.5 649.5,332.0 643.0,332.3" fill="#646973" stroke="#646973" stroke-width="0.4"/>
<polygon points="641.8,376.4 643.0,376.4 643.0,384.9 641.8,385.0" fill="#4b5058" stroke="#4b5058" stroke-width="0.4"/>
<polygon points="643.0,376.4 649.5,376.0 649.5,384.5 643.0,384.9" fill="#646973" stroke="#646973" stroke-width="0.4"/>
<polygon points="367.5,334.0 371.0,333.8 371.0,402.3 367.5,402.5" fill="#5b6069" stroke="#5b6069" stroke-width="0.4"/>
<polygon points="467.6,341.3 468.8,341.2 468.8,387.0 467.6,387.0" fill="#cfd0d2" stroke="#cfd0d2" stroke-width="0.4"/>
<polygon points="467.6,396.1 468.8,396.0 468.8,553.2 467.6,553.4" fill="#cfd0d2" stroke="#cfd0d2" stroke-width="0.4"/>
<polygon points="561.8,336.5 563.0,336.4 563.0,381.2 561.8,381.3" fill="#cfd0d2" stroke="#cfd0d2" stroke-width="0.4"/>
<polygon points="561.8,390.1 563.0,390.0 563.0,543.2 561.8,543.3" fill="#cfd0d2" stroke="#cfd0d2" stroke-width="0.4"/>
<polygon points="367.8,346.4 467.6,341.3 467.6,387.0 367.8,393.1" fill="#f8f8f8" stroke="#f8f8f8" stroke-width="0.4"/>
<polygon points="468.8,341.2 561.8,336.5 561.8,381.3 468.8,387.0" fill="#f8f8f8" stroke="#f8f8f8" stroke-width="0.4"/>
<polygon points="563.0,336.4 648.6,332.0 648.6,376.0 563.0,381.2" fill="#f8f8f8" stroke="#f8f8f8" stroke-width="0.4"/>
<polygon points="367.8,402.5 467.6,396.1 467.6,553.4 367.8,564.0" fill="#f8f8f8" stroke="#f8f8f8" stroke-width="0.4"/>
<polygon points="563.0,390.0 648.6,384.5 648.6,534.0 563.0,543.2" fill="#f8f8f8" stroke="#f8f8f8" stroke-width="0.4"/>
<polygon points="468.8,396.0 561.8,390.1 561.8,435.9 468.8,441.7" fill="#f8f8f8" stroke="#f8f8f8" stroke-width="0.4"/>
<polygon points="468.8,451.4 561.8,444.2 561.8,489.8 468.8,497.6" fill="#f8f8f8" stroke="#f8f8f8" stroke-width="0.4"/>
<polygon points="468.8,507.1 561.8,498.6 561.8,543.3 468.8,553.2" fill="#f8f8f8" stroke="#f8f8f8" stroke-width="0.4"/>
<polygon points="367.5,564.1 649.5,533.9 649.5,549.9 367.5,583.1" fill="#5b6069" stroke="#5b6069" stroke-width="0.4"/>
<line x1="333" y1="305.7" x2="589" y2="295.1" stroke="#000" stroke-width="2.6"/>
<polygon points="325.9,306 338,300.3 338.5,311.3" fill="#000"/>
<polygon points="595.8,294.6 583,289.6 583.8,300.6" fill="#000"/>
<text x="430" y="296.5" font-family="Liberation Sans" font-weight="bold" font-size="16.5" textLength="74" lengthAdjust="spacingAndGlyphs" transform="rotate(-2.3 466 291)">1204 мм</text>
<line x1="603" y1="296.3" x2="660" y2="308.2" stroke="#000" stroke-width="2.6"/>
<polygon points="596.7,294.7 608.5,291.8 606.5,302.8" fill="#000"/>
<polygon points="666.5,309.7 654.7,312.6 656.7,301.6" fill="#000"/>
<text x="0" y="0" font-family="Liberation Sans" font-weight="bold" font-size="16.5" textLength="54.5" lengthAdjust="spacingAndGlyphs" transform="translate(607.5,289.5) rotate(13)">410 мм</text>
<line x1="318.5" y1="324" x2="318.5" y2="551" stroke="#000" stroke-width="2.8"/>
<polygon points="318.6,316.5 313.8,329.2 323.4,329.2" fill="#000"/>
<polygon points="318.6,558 313.8,545.3 323.4,545.3" fill="#000"/>
<text x="0" y="0" font-family="Liberation Sans" font-weight="bold" font-size="17.5" textLength="63" lengthAdjust="spacingAndGlyphs" transform="translate(314.5,470.5) rotate(-90)">940 мм</text>
<g stroke="#2a2a2a" stroke-width="1.4"><line x1="15.8" y1="345.2" x2="226.0" y2="345.2"/><line x1="15.8" y1="358.9" x2="226.0" y2="358.9"/><line x1="15.8" y1="372.6" x2="226.0" y2="372.6"/><line x1="15.8" y1="386.2" x2="226.0" y2="386.2"/><line x1="15.8" y1="399.9" x2="226.0" y2="399.9"/><line x1="15.8" y1="413.6" x2="226.0" y2="413.6"/><line x1="15.8" y1="427.3" x2="226.0" y2="427.3"/><line x1="15.8" y1="441.0" x2="226.0" y2="441.0"/><line x1="15.8" y1="454.6" x2="226.0" y2="454.6"/><line x1="15.8" y1="468.3" x2="226.0" y2="468.3"/><line x1="15.8" y1="482.0" x2="226.0" y2="482.0"/><line x1="16.5" y1="345.2" x2="16.5" y2="482.0"/><line x1="34.2" y1="345.2" x2="34.2" y2="482.0"/><line x1="152.5" y1="345.2" x2="152.5" y2="482.0"/><line x1="208.8" y1="345.2" x2="208.8" y2="482.0"/><line x1="225.3" y1="345.2" x2="225.3" y2="482.0"/></g>
<text x="25.4" y="356.3" font-family="Liberation Serif" font-size="13" text-anchor="middle">1</text>
<text x="38.2" y="356.3" font-family="Liberation Serif" font-size="13" textLength="85.7" lengthAdjust="spacingAndGlyphs">Боковина левая</text>
<text x="181.8" y="356.3" font-family="Liberation Serif" font-size="13" text-anchor="middle">924x388</text>
<text x="217.3" y="356.3" font-family="Liberation Serif" font-size="13" text-anchor="middle">1</text>
<text x="25.4" y="370.0" font-family="Liberation Serif" font-size="13" text-anchor="middle">2</text>
<text x="38.2" y="370.0" font-family="Liberation Serif" font-size="13" textLength="92.8" lengthAdjust="spacingAndGlyphs">Боковина правая</text>
<text x="181.8" y="370.0" font-family="Liberation Serif" font-size="13" text-anchor="middle">924x388</text>
<text x="217.3" y="370.0" font-family="Liberation Serif" font-size="13" text-anchor="middle">1</text>
<text x="25.4" y="383.6" font-family="Liberation Serif" font-size="13" text-anchor="middle">3</text>
<text x="38.2" y="383.6" font-family="Liberation Serif" font-size="13" textLength="104.3" lengthAdjust="spacingAndGlyphs">Перегородка левая</text>
<text x="181.8" y="383.6" font-family="Liberation Serif" font-size="13" text-anchor="middle">834x388</text>
<text x="217.3" y="383.6" font-family="Liberation Serif" font-size="13" text-anchor="middle">1</text>
<text x="25.4" y="397.3" font-family="Liberation Serif" font-size="13" text-anchor="middle">4</text>
<text x="38.2" y="397.3" font-family="Liberation Serif" font-size="13" textLength="111.0" lengthAdjust="spacingAndGlyphs">Перегородка правая</text>
<text x="181.8" y="397.3" font-family="Liberation Serif" font-size="13" text-anchor="middle">834x388</text>
<text x="217.3" y="397.3" font-family="Liberation Serif" font-size="13" text-anchor="middle">1</text>
<text x="25.4" y="411.0" font-family="Liberation Serif" font-size="13" text-anchor="middle">5</text>
<text x="38.2" y="411.0" font-family="Liberation Serif" font-size="13" textLength="104.3" lengthAdjust="spacingAndGlyphs">Перегородка левая</text>
<text x="181.8" y="411.0" font-family="Liberation Serif" font-size="13" text-anchor="middle">834x388</text>
<text x="217.3" y="411.0" font-family="Liberation Serif" font-size="13" text-anchor="middle">1</text>
<text x="25.4" y="424.7" font-family="Liberation Serif" font-size="13" text-anchor="middle">6</text>
<text x="38.2" y="424.7" font-family="Liberation Serif" font-size="13" textLength="111.0" lengthAdjust="spacingAndGlyphs">Перегородка правая</text>
<text x="181.8" y="424.7" font-family="Liberation Serif" font-size="13" text-anchor="middle">834x388</text>
<text x="217.3" y="424.7" font-family="Liberation Serif" font-size="13" text-anchor="middle">1</text>
<text x="25.4" y="438.4" font-family="Liberation Serif" font-size="13" text-anchor="middle">7</text>
<text x="38.0" y="438.4" font-family="Liberation Serif" font-size="13">Крыша комода</text>
<text x="181.8" y="438.4" font-family="Liberation Serif" font-size="13" text-anchor="middle">1204x406</text>
<text x="217.3" y="438.4" font-family="Liberation Serif" font-size="13" text-anchor="middle">1</text>
<text x="25.4" y="452.0" font-family="Liberation Serif" font-size="13" text-anchor="middle">8</text>
<text x="38.0" y="452.0" font-family="Liberation Serif" font-size="13">Дно комода</text>
<text x="181.8" y="452.0" font-family="Liberation Serif" font-size="13" text-anchor="middle">1168x388</text>
<text x="217.3" y="452.0" font-family="Liberation Serif" font-size="13" text-anchor="middle">1</text>
<text x="25.4" y="465.7" font-family="Liberation Serif" font-size="13" text-anchor="middle">9</text>
<text x="54.0" y="465.7" font-family="Liberation Serif" font-size="13">Цоколь</text>
<text x="181.8" y="465.7" font-family="Liberation Serif" font-size="13" text-anchor="middle">1168x74</text>
<text x="217.3" y="465.7" font-family="Liberation Serif" font-size="13" text-anchor="middle">1</text>
<text x="25.4" y="479.4" font-family="Liberation Serif" font-size="13" text-anchor="middle">10</text>
<text x="49.0" y="479.4" font-family="Liberation Serif" font-size="13">Планка</text>
<text x="181.8" y="479.4" font-family="Liberation Serif" font-size="13" text-anchor="middle">368x60</text>
<text x="217.3" y="479.4" font-family="Liberation Serif" font-size="13" text-anchor="middle">8</text>
<g stroke="#2a2a2a" stroke-width="1.4"><line x1="15.8" y1="485.5" x2="226.7" y2="485.5"/><line x1="15.8" y1="499.2" x2="226.7" y2="499.2"/><line x1="15.8" y1="512.9" x2="226.7" y2="512.9"/><line x1="15.8" y1="526.6" x2="226.7" y2="526.6"/><line x1="15.8" y1="540.2" x2="226.7" y2="540.2"/><line x1="15.8" y1="553.9" x2="226.7" y2="553.9"/><line x1="15.8" y1="567.6" x2="226.7" y2="567.6"/><line x1="15.8" y1="581.3" x2="226.7" y2="581.3"/><line x1="15.8" y1="595.0" x2="226.7" y2="595.0"/><line x1="16.5" y1="485.5" x2="16.5" y2="595.0"/><line x1="34.2" y1="485.5" x2="34.2" y2="595.0"/><line x1="161.4" y1="485.5" x2="161.4" y2="595.0"/><line x1="213.0" y1="485.5" x2="213.0" y2="595.0"/><line x1="226.0" y1="485.5" x2="226.0" y2="595.0"/></g>
<text x="25.8" y="496.5" font-family="Liberation Serif" font-size="13" text-anchor="middle">11</text>
<text x="44.2" y="496.5" font-family="Liberation Serif" font-size="13" textLength="77.1" lengthAdjust="spacingAndGlyphs">Полка комода</text>
<text x="209.3" y="496.5" font-family="Liberation Serif" font-size="13" text-anchor="end">376x368</text>
<text x="219.6" y="496.5" font-family="Liberation Serif" font-size="13" text-anchor="middle">2</text>
<text x="25.8" y="510.2" font-family="Liberation Serif" font-size="13" text-anchor="middle">12</text>
<text x="40.9" y="510.2" font-family="Liberation Serif" font-size="13" textLength="89.7" lengthAdjust="spacingAndGlyphs">Боковина ящика</text>
<text x="209.3" y="510.2" font-family="Liberation Serif" font-size="13" text-anchor="end">350x110</text>
<text x="219.6" y="510.2" font-family="Liberation Serif" font-size="13" text-anchor="middle">12</text>
<text x="25.8" y="523.9" font-family="Liberation Serif" font-size="13" text-anchor="middle">13</text>
<text x="40.9" y="523.9" font-family="Liberation Serif" font-size="13" textLength="117.8" lengthAdjust="spacingAndGlyphs">Щит ящика передний</text>
<text x="209.3" y="523.9" font-family="Liberation Serif" font-size="13" text-anchor="end">311x110</text>
<text x="219.6" y="523.9" font-family="Liberation Serif" font-size="13" text-anchor="middle">6</text>
<text x="25.8" y="537.5" font-family="Liberation Serif" font-size="13" text-anchor="middle">14</text>
<text x="40.9" y="537.5" font-family="Liberation Serif" font-size="13" textLength="104.9" lengthAdjust="spacingAndGlyphs">Щит ящика задний</text>
<text x="209.3" y="537.5" font-family="Liberation Serif" font-size="13" text-anchor="end">311x110</text>
<text x="219.6" y="537.5" font-family="Liberation Serif" font-size="13" text-anchor="middle">6</text>
<text x="25.8" y="551.2" font-family="Liberation Serif" font-size="13" text-anchor="middle">15</text>
<text x="48.9" y="551.2" font-family="Liberation Serif" font-size="13">Фасад ящика</text>
<text x="209.3" y="551.2" font-family="Liberation Serif" font-size="13" text-anchor="end">396x170</text>
<text x="219.6" y="551.2" font-family="Liberation Serif" font-size="13" text-anchor="middle">6</text>
<text x="25.8" y="564.9" font-family="Liberation Serif" font-size="13" text-anchor="middle">16</text>
<text x="48.9" y="564.9" font-family="Liberation Serif" font-size="13">Фасад</text>
<text x="209.3" y="564.9" font-family="Liberation Serif" font-size="13" text-anchor="end">396x590</text>
<text x="219.6" y="564.9" font-family="Liberation Serif" font-size="13" text-anchor="middle">2</text>
<text x="25.8" y="578.6" font-family="Liberation Serif" font-size="13" text-anchor="middle">17</text>
<text x="50.4" y="578.6" font-family="Liberation Serif" font-size="13">Дно ящика</text>
<text x="209.3" y="578.6" font-family="Liberation Serif" font-size="13" text-anchor="end">340x346</text>
<text x="219.6" y="578.6" font-family="Liberation Serif" font-size="13" text-anchor="middle">6</text>
<text x="25.8" y="592.3" font-family="Liberation Serif" font-size="13" text-anchor="middle">18</text>
<text x="46.9" y="592.3" font-family="Liberation Serif" font-size="13">Стенка задняя</text>
<text x="209.3" y="592.3" font-family="Liberation Serif" font-size="13" text-anchor="end">860x398</text>
<text x="219.6" y="592.3" font-family="Liberation Serif" font-size="13" text-anchor="middle">3</text>
<g stroke="#2a2a2a" stroke-width="1.4"><line x1="2.8" y1="618.3" x2="689.6" y2="618.3"/><line x1="2.8" y1="662.8" x2="689.6" y2="662.8"/><line x1="2.8" y1="682.1" x2="689.6" y2="682.1"/><line x1="2.8" y1="696.8" x2="689.6" y2="696.8"/><line x1="3.5" y1="618.3" x2="3.5" y2="696.8"/><line x1="44.6" y1="618.3" x2="44.6" y2="696.8"/><line x1="83.5" y1="618.3" x2="83.5" y2="696.8"/><line x1="130.2" y1="618.3" x2="130.2" y2="696.8"/><line x1="172.9" y1="618.3" x2="172.9" y2="696.8"/><line x1="202.0" y1="618.3" x2="202.0" y2="696.8"/><line x1="232.3" y1="618.3" x2="232.3" y2="696.8"/><line x1="265.3" y1="618.3" x2="265.3" y2="696.8"/><line x1="306.0" y1="618.3" x2="306.0" y2="696.8"/><line x1="347.5" y1="618.3" x2="347.5" y2="696.8"/><line x1="401.7" y1="618.3" x2="401.7" y2="696.8"/><line x1="433.9" y1="618.3" x2="433.9" y2="696.8"/><line x1="500.3" y1="618.3" x2="500.3" y2="696.8"/><line x1="541.6" y1="618.3" x2="541.6" y2="696.8"/><line x1="602.0" y1="618.3" x2="602.0" y2="696.8"/><line x1="688.9" y1="618.3" x2="688.9" y2="696.8"/></g>
<text x="24.1" y="675.6" font-family="Liberation Serif" font-size="8.8" text-anchor="middle">Евровинт</text>
<text x="25.1" y="694.0" font-family="Liberation Serif" font-size="13.2" text-anchor="middle">38</text>
<text x="64.0" y="675.6" font-family="Liberation Serif" font-size="8.8" text-anchor="middle">Заглушка</text>
<text x="65.0" y="694.0" font-family="Liberation Serif" font-size="13.2" text-anchor="middle">6</text>
<text x="106.8" y="675.6" font-family="Liberation Serif" font-size="8.8" text-anchor="middle">Евроключ</text>
<text x="107.8" y="694.0" font-family="Liberation Serif" font-size="13.2" text-anchor="middle">1</text>
<text x="151.6" y="675.6" font-family="Liberation Serif" font-size="8.8" text-anchor="middle">Ножка</text>
<text x="152.6" y="694.0" font-family="Liberation Serif" font-size="13.2" text-anchor="middle">5</text>
<text x="187.4" y="675.6" font-family="Liberation Serif" font-size="8.8" text-anchor="middle">Гвоздь</text>
<text x="188.4" y="694.0" font-family="Liberation Serif" font-size="13.2" text-anchor="middle">100</text>
<text x="217.2" y="670.3" font-family="Liberation Serif" font-size="8.8" text-anchor="middle">Шуруп</text>
<text x="217.2" y="680.4" font-family="Liberation Serif" font-size="8.8" text-anchor="middle">4x16</text>
<text x="218.2" y="694.0" font-family="Liberation Serif" font-size="13.2" text-anchor="middle">64</text>
<text x="248.8" y="670.3" font-family="Liberation Serif" font-size="8.8" text-anchor="middle">Шуруп</text>
<text x="248.8" y="680.4" font-family="Liberation Serif" font-size="8.8" text-anchor="middle">4x30</text>
<text x="249.8" y="694.0" font-family="Liberation Serif" font-size="13.2" text-anchor="middle">12</text>
<text x="285.6" y="670.3" font-family="Liberation Serif" font-size="8.8" text-anchor="middle">Ввинчив.</text>
<text x="285.6" y="680.4" font-family="Liberation Serif" font-size="8.8" text-anchor="middle">дюбель</text>
<text x="286.6" y="694.0" font-family="Liberation Serif" font-size="13.2" text-anchor="middle">12</text>
<text x="326.8" y="670.3" font-family="Liberation Serif" font-size="8.8" text-anchor="middle">Эксцентр.</text>
<text x="326.8" y="680.4" font-family="Liberation Serif" font-size="8.8" text-anchor="middle">стяжка</text>
<text x="327.8" y="694.0" font-family="Liberation Serif" font-size="13.2" text-anchor="middle">12</text>
<text x="374.6" y="670.3" font-family="Liberation Serif" font-size="8.8" text-anchor="middle">Заглушка для</text>
<text x="374.6" y="680.4" font-family="Liberation Serif" font-size="8.8" text-anchor="middle">эксцентрика</text>
<text x="375.6" y="694.0" font-family="Liberation Serif" font-size="13.2" text-anchor="middle">12</text>
<text x="417.8" y="675.6" font-family="Liberation Serif" font-size="8.8" text-anchor="middle">Шкант</text>
<text x="418.8" y="694.0" font-family="Liberation Serif" font-size="13.2" text-anchor="middle">32</text>
<text x="467.1" y="670.3" font-family="Liberation Serif" font-size="8.8" text-anchor="middle">Ответная планка</text>
<text x="467.1" y="680.4" font-family="Liberation Serif" font-size="8.8" text-anchor="middle">для петли</text>
<text x="468.1" y="694.0" font-family="Liberation Serif" font-size="13.2" text-anchor="middle">4</text>
<text x="521.0" y="670.3" font-family="Liberation Serif" font-size="8.8" text-anchor="middle">Петля</text>
<text x="521.0" y="680.4" font-family="Liberation Serif" font-size="8.8" text-anchor="middle">накладная</text>
<text x="522.0" y="694.0" font-family="Liberation Serif" font-size="13.2" text-anchor="middle">4</text>
<text x="571.8" y="675.6" font-family="Liberation Serif" font-size="8.8" text-anchor="middle" textLength="58.5" lengthAdjust="spacingAndGlyphs">Полкодержатель</text>
<text x="572.8" y="694.0" font-family="Liberation Serif" font-size="13.2" text-anchor="middle">8</text>
<text x="645.5" y="670.3" font-family="Liberation Serif" font-size="8.6" text-anchor="middle">Комплект роликовых</text>
<text x="645.5" y="680.4" font-family="Liberation Serif" font-size="8.6" text-anchor="middle" textLength="83.0" lengthAdjust="spacingAndGlyphs">направляющих L=350мм</text>
<text x="646.5" y="694.0" font-family="Liberation Serif" font-size="13.2" text-anchor="middle">6</text>
<text x="163.8" y="614.6" font-family="Liberation Serif" font-size="16.6" textLength="287.2" lengthAdjust="spacingAndGlyphs">Комплект фурнитуры для сборки комода</text>
<g transform="translate(9.70 646.10) rotate(-28.93)"><rect x="1.47" y="-2.38" width="5.68" height="4.76" fill="#fff" stroke="#222" stroke-width="0.7"/><path d="M7.15 -2.80 L31.28 -2.80 L35.76 0 L31.28 2.80 L7.15 2.80 Z" fill="#2a2a2a" stroke="#222" stroke-width="0.6"/><path d="M7.95 1.96 L10.75 -1.96 M10.14 1.96 L12.94 -1.96 M12.33 1.96 L15.13 -1.96 M14.53 1.96 L17.33 -1.96 M16.72 1.96 L19.52 -1.96 M18.91 1.96 L21.71 -1.96 M21.11 1.96 L23.91 -1.96 M23.30 1.96 L26.10 -1.96 M25.50 1.96 L28.30 -1.96 M27.69 1.96 L30.49 -1.96" stroke="#8a8a8a" stroke-width="0.5"/><ellipse cx="1.47" cy="0" rx="2.31" ry="4.20" fill="#fff" stroke="#222" stroke-width="0.8"/><ellipse cx="1.47" cy="0" rx="1.05" ry="1.89" fill="none" stroke="#444" stroke-width="0.6"/></g>
<ellipse cx="63.5" cy="639.3" rx="4.6" ry="6.6" fill="#fff" stroke="#222" stroke-width="0.9" transform="rotate(-25 63.5 639.3)"/><path d="M66 635 L69 634.5 L69.8 637 L67.5 638" fill="none" stroke="#222" stroke-width="0.9"/>
<path d="M108.5 623.8 L88 635.3 L123.3 654.3" fill="none" stroke="#222" stroke-width="3.4" stroke-linejoin="round" stroke-linecap="round"/><path d="M108.5 623.8 L88 635.3 L123.3 654.3" fill="none" stroke="#f4f4f4" stroke-width="1.6" stroke-linejoin="round" stroke-linecap="round"/>
<path d="M132.5 634.7 L145.6 627.7 L168 641.2 L155.9 649.7 Z" fill="#fff" stroke="#222" stroke-width="0.9"/><path d="M132.5 634.7 L132.5 637.5 L155.9 652.5 L168 644 L168 641.2" fill="none" stroke="#222" stroke-width="0.9"/><path d="M146.5 628.3 C150 623 160 627 166.5 638" fill="none" stroke="#222" stroke-width="1"/><circle cx="142" cy="633" r="0.9" fill="#222"/><circle cx="160" cy="642.3" r="0.9" fill="#222"/>
<line x1="184.9" y1="631.8" x2="184.9" y2="647" stroke="#222" stroke-width="1.5"/><line x1="183.3" y1="631.8" x2="186.5" y2="631.8" stroke="#222" stroke-width="1"/>
<g transform="translate(209.70 643.10) rotate(-28.11)"><rect x="1.05" y="-1.70" width="0.27" height="3.40" fill="#fff" stroke="#222" stroke-width="0.7"/><path d="M1.32 -2.00 L13.35 -2.00 L16.55 0 L13.35 2.00 L1.32 2.00 Z" fill="#2a2a2a" stroke="#222" stroke-width="0.6"/><path d="M1.83 1.40 L3.83 -1.40 M3.33 1.40 L5.33 -1.40 M4.84 1.40 L6.84 -1.40 M6.34 1.40 L8.34 -1.40 M7.84 1.40 L9.84 -1.40 M9.35 1.40 L11.35 -1.40 M10.85 1.40 L12.85 -1.40" stroke="#8a8a8a" stroke-width="0.5"/><ellipse cx="1.05" cy="0" rx="1.65" ry="3.00" fill="#fff" stroke="#222" stroke-width="0.8"/><ellipse cx="1.05" cy="0" rx="0.75" ry="1.35" fill="none" stroke="#444" stroke-width="0.6"/></g>
<g transform="translate(237.80 647.40) rotate(-27.47)"><rect x="0.98" y="-1.36" width="1.29" height="2.72" fill="#fff" stroke="#222" stroke-width="0.7"/><path d="M2.27 -1.60 L25.84 -1.60 L28.40 0 L25.84 1.60 L2.27 1.60 Z" fill="#2a2a2a" stroke="#222" stroke-width="0.6"/><path d="M2.78 1.12 L4.38 -1.12 M4.09 1.12 L5.69 -1.12 M5.40 1.12 L7.00 -1.12 M6.71 1.12 L8.31 -1.12 M8.02 1.12 L9.62 -1.12 M9.33 1.12 L10.93 -1.12 M10.64 1.12 L12.24 -1.12 M11.95 1.12 L13.55 -1.12 M13.26 1.12 L14.86 -1.12 M14.57 1.12 L16.17 -1.12 M15.88 1.12 L17.48 -1.12 M17.19 1.12 L18.79 -1.12 M18.49 1.12 L20.09 -1.12 M19.80 1.12 L21.40 -1.12 M21.11 1.12 L22.71 -1.12 M22.42 1.12 L24.02 -1.12 M23.73 1.12 L25.33 -1.12" stroke="#8a8a8a" stroke-width="0.5"/><ellipse cx="0.98" cy="0" rx="1.54" ry="2.80" fill="#fff" stroke="#222" stroke-width="0.8"/><ellipse cx="0.98" cy="0" rx="0.70" ry="1.26" fill="none" stroke="#444" stroke-width="0.6"/></g>
<g transform="translate(271.3 647.4) rotate(-26.5)"><ellipse cx="0" cy="0" rx="2" ry="3.6" fill="#333"/><rect x="2" y="-2.2" width="4" height="4.4" fill="#fff" stroke="#222" stroke-width="0.9"/><rect x="6" y="-4" width="20" height="8" fill="#fff" stroke="#222" stroke-width="0.9"/><rect x="26" y="-3.6" width="9" height="7.2" fill="#fff" stroke="#222" stroke-width="0.9"/><path d="M27.5 -3.6 l-1 7.2 M29.5 -3.6 l-1 7.2 M31.5 -3.6 l-1 7.2 M33.5 -3.6 l-1 7.2" stroke="#222" stroke-width="0.9"/></g>
<g><path d="M319 635 L319.5 644 Q321 648.5 325.5 649.5 Q330 648.5 331.5 645 L331.8 635 Z" fill="#1e1e1e"/><path d="M321.5 639 h2.5 v3 h-2.5 Z M326 639 h2.5 v3 h-2.5 Z" fill="#ddd"/><path d="M320 644.5 Q325 647 331 644" fill="none" stroke="#ccc" stroke-width="0.7"/><ellipse cx="325.2" cy="633.5" rx="7" ry="4" fill="#fff" stroke="#111" stroke-width="1.2"/><path d="M322 631.5 L328.4 635.5 M328.4 631.5 L322 635.5" stroke="#111" stroke-width="1.7"/></g>
<ellipse cx="376.8" cy="636.9" rx="10.4" ry="4.6" fill="#fff" stroke="#222" stroke-width="0.9"/><ellipse cx="376.8" cy="637.9" rx="10.1" ry="4.2" fill="none" stroke="#777" stroke-width="0.6"/>
<g transform="translate(412.5 642) rotate(-40)"><rect x="0" y="-2.5" width="17" height="5" rx="2" fill="#fff" stroke="#222" stroke-width="0.9"/><line x1="2" y1="-0.8" x2="15" y2="-0.8" stroke="#555" stroke-width="0.6"/><line x1="2" y1="0.9" x2="15" y2="0.9" stroke="#555" stroke-width="0.6"/><ellipse cx="0.5" cy="0" rx="1.2" ry="2.5" fill="#444"/></g>
<g stroke="#222" stroke-width="0.9" fill="#fff"><path d="M459.1 622 L466 620.8 L471.8 622.5 L471.8 659 L465 660.5 L459.1 659 Z"/><path d="M452.2 636 L475.3 634 L475.3 640 L452.2 643 Z"/><rect x="463.5" y="624.5" width="2.5" height="8" rx="1.2"/><rect x="463.5" y="647" width="2.5" height="9" rx="1.2"/><circle cx="453.6" cy="642.3" r="2.3" fill="#333"/><path d="M471.8 644 L476 650 L473 651"/></g>
<g stroke="#222" stroke-width="0.9" fill="#fff"><path d="M527.1 623.6 L533.5 625 L534.3 661.1 L528.5 660 Z"/><path d="M502.6 629.4 L509 628 L531.5 637 L531.5 642.4 L525 643.5 L502.6 633.8 Z"/><circle cx="511.5" cy="635" r="1.3" fill="#222"/><rect x="533" y="632" width="5" height="11" /><path d="M528 643 L532 648 L535 647" fill="none"/></g>
<g transform="translate(557 640.8) rotate(-9)"><rect x="0" y="-3.5" width="10" height="7" rx="2.5" fill="#fff" stroke="#222" stroke-width="0.9"/><rect x="9" y="-4.6" width="13" height="9.2" rx="2.5" fill="#fff" stroke="#222" stroke-width="0.9"/><ellipse cx="0.8" cy="0" rx="1.6" ry="3.4" fill="#fff" stroke="#222" stroke-width="0.9"/><line x1="10" y1="-4.5" x2="10" y2="4.5" stroke="#222" stroke-width="0.9"/></g>
<g stroke="#222" stroke-width="0.9" fill="#fff"><path d="M605 619.3 L675.6 643.8 L676.5 650 L670 652 L605 628 Z"/><line x1="606" y1="622.5" x2="672" y2="645.5" stroke-width="1.6"/><path d="M605 635.2 L674.1 657 L674.1 661.1 L605 639.5 Z"/><line x1="606" y1="636.5" x2="673" y2="658.5" stroke-width="1.4"/><circle cx="614" cy="623.5" r="0.8" fill="#222"/><circle cx="625" cy="627.5" r="0.8" fill="#222"/><circle cx="631" cy="629.5" r="0.8" fill="#222"/><path d="M670 643 L675.6 643.8 L676.5 652.5 L672 650 Z" fill="#444"/></g>
</svg>
</body></html>
